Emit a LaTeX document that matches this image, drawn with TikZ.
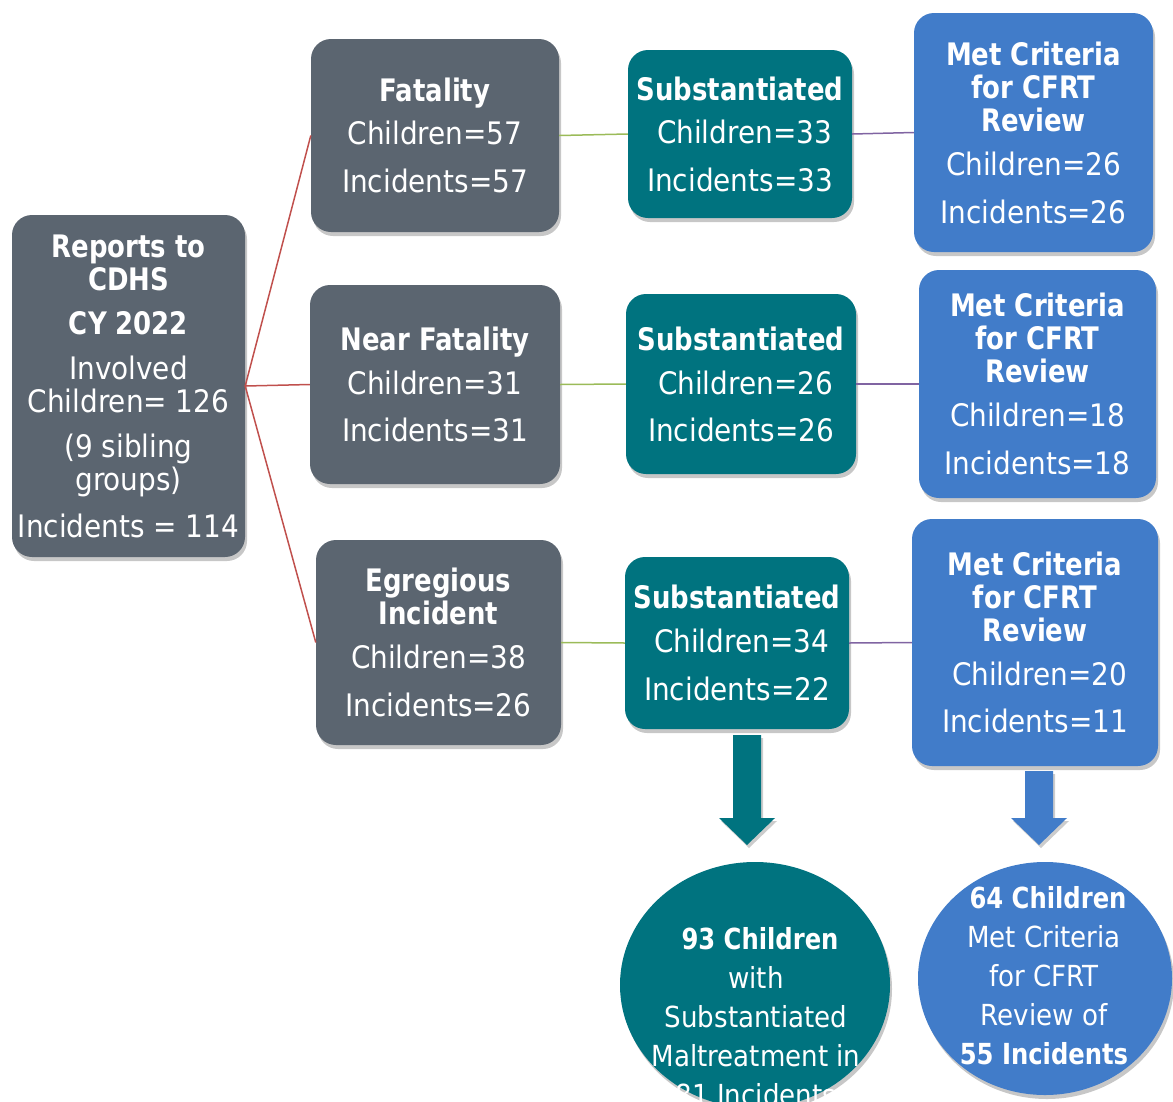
\documentclass[tikz,border=0pt]{standalone}
\usepackage{fontspec}
\setmainfont{DejaVu Sans Condensed}[BoldFeatures={FakeStretch=0.93}]
\usetikzlibrary{shadows,shapes.geometric}
\definecolor{gboxc}{RGB}{91,101,112}
\definecolor{tealc}{RGB}{0,115,127}
\definecolor{bluec}{RGB}{65,124,201}
\definecolor{redl}{RGB}{192,80,77}
\definecolor{greenl}{RGB}{155,187,89}
\definecolor{purpl}{RGB}{128,100,162}
\tikzset{
  box/.style={rounded corners=20pt, inner sep=0pt, align=center, text=white,
    font=\fontsize{31}{33}\selectfont,
    drop shadow={shadow xshift=2pt, shadow yshift=-4pt, opacity=0.22, fill=black}},
  graybox/.style={box, fill=gboxc},
  tealbox/.style={box, fill=tealc},
  bluebox/.style={box, fill=bluec},
  oval/.style={ellipse, inner sep=0pt,
    drop shadow={shadow xshift=2pt, shadow yshift=-4pt, opacity=0.22, fill=black}},
  ovaltext/.style={align=center, text=white, inner sep=0pt,
    font=\fontsize{29}{39}\selectfont},
  redline/.style={draw=redl, line width=1.5pt},
  greenline/.style={draw=greenl, line width=1.5pt},
  purpline/.style={draw=purpl, line width=1.5pt},
  blockarrow/.style={drop shadow={shadow xshift=2pt, shadow yshift=-3pt, opacity=0.2, fill=black}}
}
\begin{document}
\begin{tikzpicture}[x=1pt,y=-1pt]
\useasboundingbox (0,0) rectangle (1173,1101);
\clip (0,0) rectangle (1173,1101);

% root
\node[graybox, minimum width=233pt, minimum height=342pt] (root) at (128.5,386)
  {\textbf{Reports to}\\\textbf{CDHS}\\[11pt]\textbf{CY 2022}\\[12pt]Involved\\Children= 126\\[12pt](9 sibling\\groups)\\[14pt]Incidents = 114};

% column 1
\node[graybox, minimum width=248pt, minimum height=193pt] (fat) at (435,135.5)
  {\textbf{Fatality}\\[10pt]Children=57\\[15pt]Incidents=57};
\node[graybox, minimum width=250pt, minimum height=199pt] (near) at (435,384.5)
  {\textbf{Near Fatality}\\[11pt]Children=31\\[14pt]Incidents=31};
\node[graybox, minimum width=245pt, minimum height=205pt] (egr) at (438.5,642.5)
  {\textbf{Egregious}\\\textbf{Incident}\\[11pt]Children=38\\[15pt]Incidents=26};

% column 2
\node[tealbox, minimum width=224pt, minimum height=168pt] (sub1) at (740,134)
  {\textbf{Substantiated}\\[10pt]\hspace*{9pt}Children=33\\[15pt]Incidents=33};
\node[tealbox, minimum width=230pt, minimum height=180pt] (sub2) at (741,384)
  {\textbf{Substantiated}\\[11pt]\hspace*{9pt}Children=26\\[14pt]Incidents=26};
\node[tealbox, minimum width=224pt, minimum height=172pt] (sub3) at (737,643)
  {\textbf{Substantiated}\\[11pt]\hspace*{9pt}Children=34\\[15pt]Incidents=22};

% column 3
\node[bluebox, minimum width=239pt, minimum height=239pt] (cf1) at (1033.5,132.5)
  {\textbf{Met Criteria}\\\textbf{for CFRT}\\\textbf{Review}\\[11pt]Children=26\\[15pt]Incidents=26};
\node[bluebox, minimum width=237pt, minimum height=228pt] (cf2) at (1037.5,384)
  {\textbf{Met Criteria}\\\textbf{for CFRT}\\\textbf{Review}\\[11pt]Children=18\\[15pt]Incidents=18};
\node[bluebox, minimum width=246pt, minimum height=247pt] (cf3) at (1035,642.5)
  {\textbf{Met Criteria}\\\textbf{for CFRT}\\\textbf{Review}\\[11pt]\hspace*{9pt}Children=20\\[14pt]Incidents=11};

% connectors
\draw[redline] (root.east) -- (fat.west);
\draw[redline] (root.east) -- (near.west);
\draw[redline] (root.east) -- (egr.west);
\draw[greenline] (fat.east) -- (sub1.west);
\draw[greenline] (near.east) -- (sub2.west);
\draw[greenline] (egr.east) -- (sub3.west);
\draw[purpline] (sub1.east) -- (cf1.west);
\draw[purpline] (sub2.east) -- (cf2.west);
\draw[purpline] (sub3.east) -- (cf3.west);

% block arrows
\fill[tealc, blockarrow] (733,735) -- (761,735) -- (761,818) -- (775,818) -- (747,845) -- (719,818) -- (733,818) -- cycle;
\fill[bluec, blockarrow] (1025,771) -- (1053,771) -- (1053,818) -- (1067,818) -- (1039,845) -- (1011,818) -- (1025,818) -- cycle;

% ovals
\node[oval, fill=tealc, minimum width=270pt, minimum height=246pt] (ov1) at (755,985) {};
\node[ovaltext] (ov1t) at (756,1017)
  {\hspace*{8pt}\textbf{93 Children}\\with\\Substantiated\\Maltreatment in\\81 Incidents};
\node[oval, fill=bluec, minimum width=254pt, minimum height=233pt] (ov2) at (1045,978.5) {};
\node[ovaltext] (ov2t) at (1044,976)
  {\hspace*{8pt}\textbf{64 Children}\\Met Criteria\\for CFRT\\Review of\\\textbf{55 Incidents}};
\end{tikzpicture}
\end{document}
